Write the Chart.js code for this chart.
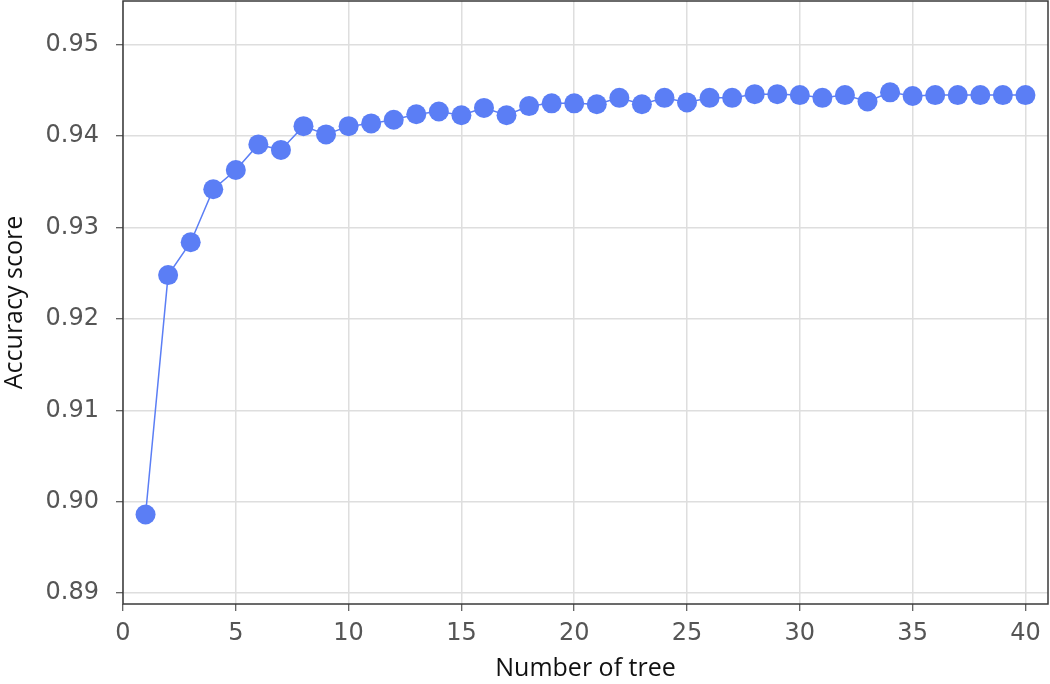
<!DOCTYPE html>
<html>
<head>
<meta charset="utf-8">
<script src="https://cdn.jsdelivr.net/npm/chart.js@4/dist/chart.umd.min.js"></script>
<style>
  html, body { margin: 0; padding: 0; background: #fff; }
  #wrap { width: 1050px; height: 684px; }
</style>
</head>
<body>
<div id="wrap"><canvas id="acc"></canvas></div>
<script>
// number of trees vs accuracy
const trees = [];
for (let i = 1; i <= 40; i++) trees.push(i);
const accuracy = [
  0.8986, 0.9248, 0.9284, 0.9342, 0.9363, 0.9391, 0.9385, 0.9411, 0.9402, 0.9411,
  0.9414, 0.9418, 0.9424, 0.9427, 0.9423, 0.9431, 0.9423, 0.9433, 0.9436, 0.9436,
  0.9435, 0.9442, 0.9435, 0.9442, 0.9437, 0.9442, 0.9442, 0.9446, 0.9446, 0.9445,
  0.9442, 0.9445, 0.9438, 0.9448, 0.9444, 0.9445, 0.9445, 0.9445, 0.9445, 0.9445
];
const xTicks = [0, 5, 10, 15, 20, 25, 30, 35, 40];
const yTicks = [0.89, 0.90, 0.91, 0.92, 0.93, 0.94, 0.95];

const points = trees.map((t, i) => ({ x: t, y: accuracy[i] }));

// matplotlib-like box round the plot area
const frame = {
  id: 'frame',
  afterDraw(chart) {
    const a = chart.chartArea, c = chart.ctx;
    c.save();
    c.strokeStyle = '#3a3a3a';
    c.lineWidth = 1.5;
    c.strokeRect(a.left, a.top, a.right - a.left, a.bottom - a.top);
    c.restore();
  }
};

const tickFont = { family: 'DejaVu Sans', size: 24 };
const titleFont = { family: 'Open Sans', size: 25 };

// no extra room for the end labels
function noPad(s) {
  s.paddingTop = 0; s.paddingBottom = 0; s.paddingLeft = 0; s.paddingRight = 0;
}

new Chart(document.getElementById('acc'), {
  type: 'line',
  data: {
    datasets: [{
      data: points,
      borderColor: '#5b7ef5',
      backgroundColor: '#5b7ef5',
      borderWidth: 1.5,
      pointRadius: 10,
      pointHoverRadius: 10,
      pointBorderWidth: 0,
      tension: 0
    }]
  },
  plugins: [frame],
  options: {
    responsive: true,
    maintainAspectRatio: false,
    animation: false,
    layout: { autoPadding: false, padding: { top: 1, right: 2, left: 0, bottom: 0 } },
    plugins: { legend: { display: false }, tooltip: { enabled: false } },
    scales: {
      x: {
        type: 'linear',
        min: 0,
        max: 41,
        afterBuildTicks: s => { s.ticks = xTicks.map(v => ({ value: v })); },
        afterFit: s => { s.height = 80; noPad(s); },
        grid: { color: '#dedede', lineWidth: 1.5, tickColor: '#333', tickLength: 7, tickWidth: 1 },
        border: { display: false },
        ticks: { color: '#555', font: tickFont, padding: 8, maxRotation: 0 },
        title: { display: true, text: 'Number of tree', color: '#111', font: titleFont, padding: { top: 0, bottom: 0 } }
      },
      y: {
        min: 0.8888,
        max: 0.9548,
        afterBuildTicks: s => { s.ticks = yTicks.map(v => ({ value: v })); },
        afterFit: s => { s.width = 123; noPad(s); },
        grid: { color: '#dedede', lineWidth: 1.5, tickColor: '#333', tickLength: 7, tickWidth: 1 },
        border: { display: false },
        ticks: { color: '#555', font: tickFont, padding: 17, callback: v => v.toFixed(2) },
        title: { display: true, text: 'Accuracy score', color: '#111', font: titleFont, padding: { top: 0, bottom: 0 } }
      }
    }
  }
});
</script>
</body>
</html>
